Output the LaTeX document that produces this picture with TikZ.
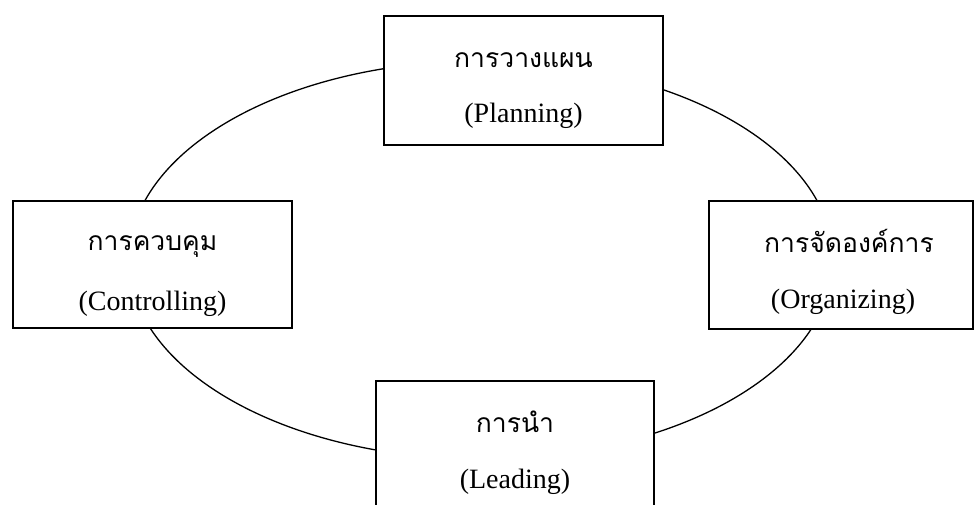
\documentclass[tikz,border=0pt]{standalone}
\usepackage{fontspec}
\setmainfont{Liberation Serif}
\newfontfamily\thaifont[Script=Thai]{Loma}
\usetikzlibrary{shapes.geometric}
\tikzset{
  box/.style={draw, line width=1.6pt, fill=white, inner sep=0pt},
  ring/.style={draw, ellipse, line width=1.3pt, inner sep=0pt},
  lat/.style={font=\fontsize{28}{30}\selectfont, inner sep=0pt, anchor=base},
  thai/.style={font=\thaifont\fontsize{26.5}{30}\selectfont, inner sep=0pt, anchor=base}
}
\begin{document}
\begin{tikzpicture}[x=1pt,y=-1pt]
\useasboundingbox (0,0) rectangle (974,505);
\clip (0,0) rectangle (974,505);
\node[ring, minimum width=704pt, minimum height=398pt] (cycle) at (481,260) {};
\node[box, minimum width=279pt, minimum height=129pt] (plan) at (523.5,80.5) {};
\node[box, minimum width=279pt, minimum height=127pt] (ctrl) at (152.5,264.5) {};
\node[box, minimum width=264pt, minimum height=128pt] (org) at (841,265) {};
\node[box, minimum width=278pt, minimum height=149pt] (lead) at (515,455.5) {};
\node[thai] (planT) at (523.5,68) {การวางแผน};
\node[lat] (planE) at (523.5,123) {(Planning)};
\node[thai] (ctrlT) at (152.5,250) {การควบคุม};
\node[lat] (ctrlE) at (152.5,310) {(Controlling)};
\node[thai] (orgT) at (849,252) {การจัดองค์การ};
\node[lat] (orgE) at (843,308) {(Organizing)};
\node[thai] (leadT) at (515,432) {การนำ};
\node[lat] (leadE) at (515,488) {(Leading)};
\end{tikzpicture}
\end{document}
